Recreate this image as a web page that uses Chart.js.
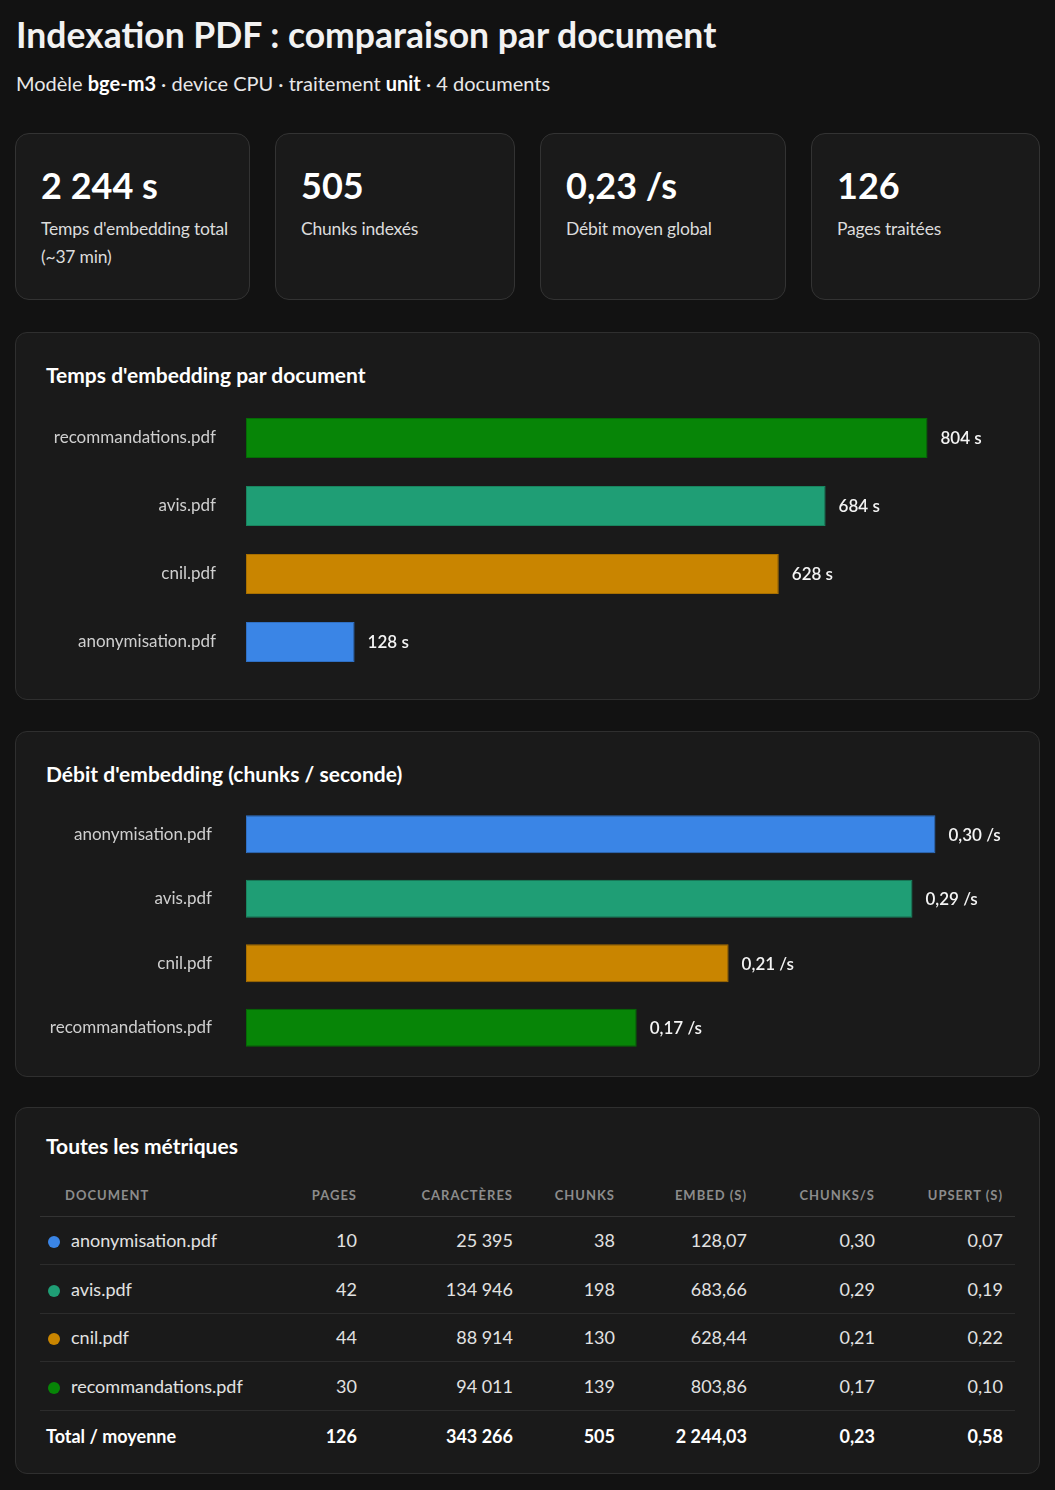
<!DOCTYPE html>
<html lang="fr">
<head>
    <meta charset="UTF-8">
    <title>Indexation PDF : comparaison par document</title>
    <script src="https://cdn.jsdelivr.net/npm/chart.js@4"></script>
    <style>
        * { box-sizing: border-box; }
        body {
            margin: 0;
            padding: 0 15px;
            background: #121212;
            color: #f2f2f2;
            font-family: Lato, "Noto Sans", sans-serif;
            width: 1055px;
        }
        h1 {
            margin: 0;
            padding-top: 14px;
            padding-left: 1px;
            font-size: 35.5px;
            line-height: 42px;
            font-weight: 700;
        }
        .subtitle {
            margin: 0;
            padding-top: 14px;
            padding-left: 1px;
            font-size: 20px;
            line-height: 26px;
            color: #e8e8e8;
        }
        .subtitle b { font-weight: 700; color: #fff; }
        .cards {
            display: grid;
            grid-template-columns: 235px 240px 246px 229px;
            column-gap: 25px;
            margin-top: 37px;
        }
        .card {
            height: 167px;
            background: #1a1a1a;
            border: 1px solid #333;
            border-radius: 14px;
            padding: 29px 25px 0 25px;
        }
        .card .value {
            font-size: 36px;
            line-height: 44px;
            font-weight: 700;
            color: #fff;
        }
        .card .label {
            margin-top: 8px;
            font-size: 17.5px;
            line-height: 28px;
            letter-spacing: -0.2px;
            white-space: nowrap;
            color: #dcdcdc;
        }
        .panel {
            background: #1a1a1a;
            border: 1px solid #2f2f2f;
            border-radius: 12px;
            padding: 29px 30px 23px 30px;
        }
        .panel h2 {
            margin: 0;
            font-size: 21px;
            line-height: 26px;
            font-weight: 700;
            color: #fff;
        }
        #p1 { margin-top: 32px; }
        #p1 .chart-box { margin-top: 16px; height: 272px; position: relative; }
        #p2 { margin-top: 31px; padding-bottom: 16px; }
        #p2 .chart-box { margin-top: 15px; height: 258px; position: relative; }
        #p3 { margin-top: 30px; padding: 25px 24px 12px 24px; }
        #p3 h2 { margin-left: 6px; }
        table {
            margin-top: 15px;
            width: 975px;
            border-collapse: collapse;
            table-layout: fixed;
            font-size: 18px;
        }
        th {
            height: 42px;
            font-size: 13px;
            font-weight: 700;
            letter-spacing: 1px;
            text-transform: uppercase;
            color: #8c8c8c;
            text-align: right;
            padding: 0 12px 0 0;
            border-bottom: 1px solid #333;
        }
        th:first-child { text-align: left; padding-left: 25px; }
        td {
            height: 48.5px;
            text-align: right;
            padding: 0 12px 0 0;
            color: #e2e2e2;
            border-bottom: 1px solid #2c2c2c;
        }
        td:first-child { text-align: left; padding-left: 8px; }
        .dot {
            display: inline-block;
            width: 12px;
            height: 12px;
            border-radius: 50%;
            margin-right: 11px;
            vertical-align: -1px;
        }
        tr.total td {
            height: 51px;
            font-weight: 700;
            color: #fff;
            border-bottom: none;
        }
        tr.total td:first-child { padding-left: 6px; }
    </style>
</head>
<body>
    <h1>Indexation PDF : comparaison par document</h1>
    <p class="subtitle">Modèle <b>bge-m3</b> · device CPU · traitement <b>unit</b> · 4 documents</p>

    <div class="cards">
        <div class="card"><div class="value" id="cTime"></div><div class="label">Temps d'embedding total<br>(~37 min)</div></div>
        <div class="card"><div class="value" id="cChunks"></div><div class="label">Chunks indexés</div></div>
        <div class="card"><div class="value" id="cRate"></div><div class="label">Débit moyen global</div></div>
        <div class="card"><div class="value" id="cPages"></div><div class="label">Pages traitées</div></div>
    </div>

    <section class="panel" id="p1">
        <h2>Temps d'embedding par document</h2>
        <div class="chart-box"><canvas id="timeChart"></canvas></div>
    </section>

    <section class="panel" id="p2">
        <h2>Débit d'embedding (chunks / seconde)</h2>
        <div class="chart-box"><canvas id="rateChart"></canvas></div>
    </section>

    <section class="panel" id="p3">
        <h2>Toutes les métriques</h2>
        <table>
            <colgroup>
                <col style="width:260px"><col style="width:69px"><col style="width:156px">
                <col style="width:102px"><col style="width:132px"><col style="width:128px"><col style="width:128px">
            </colgroup>
            <thead>
                <tr><th>Document</th><th>Pages</th><th>Caractères</th><th>Chunks</th><th>Embed (s)</th><th>Chunks/s</th><th>Upsert (s)</th></tr>
            </thead>
            <tbody id="tbody"></tbody>
        </table>
    </section>

    <script>
        const docs = ['anonymisation.pdf', 'avis.pdf', 'cnil.pdf', 'recommandations.pdf'];
        const docColors = ['#3a85e6', '#1f9e75', '#c98500', '#078507'];
        const docBorders = ['#2f70c4', '#19855f', '#a86f00', '#056b05'];
        const pages = [10, 42, 44, 30];
        const chars = [25395, 134946, 88914, 94011];
        const chunks = [38, 198, 130, 139];
        const embedSec = [128.07, 683.66, 628.44, 803.86];
        const chunksPerSec = [0.30, 0.29, 0.21, 0.17];
        const upsertSec = [0.07, 0.19, 0.22, 0.10];

        const fmtInt = v => v.toLocaleString('fr-FR').replace(/\u202f|\u00a0/g, ' ');
        const fmt2 = v => v.toLocaleString('fr-FR', {minimumFractionDigits: 2, maximumFractionDigits: 2}).replace(/\u202f|\u00a0/g, ' ');
        const sum = a => a.reduce((s, v) => s + v, 0);

        const totPages = sum(pages), totChars = sum(chars), totChunks = sum(chunks);
        const totEmbed = sum(embedSec), totUpsert = sum(upsertSec);
        const avgRate = totChunks / totEmbed;

        document.getElementById('cTime').textContent = fmtInt(Math.round(totEmbed)) + ' s';
        document.getElementById('cChunks').textContent = fmtInt(totChunks);
        document.getElementById('cRate').textContent = fmt2(avgRate) + ' /s';
        document.getElementById('cPages').textContent = fmtInt(totPages);

        // table
        const tbody = document.getElementById('tbody');
        docs.forEach((d, i) => {
            const tr = document.createElement('tr');
            tr.innerHTML = `<td><span class="dot" style="background:${docColors[i]}"></span>${d}</td>` +
                `<td>${pages[i]}</td><td>${fmtInt(chars[i])}</td><td>${chunks[i]}</td>` +
                `<td>${fmt2(embedSec[i])}</td><td>${fmt2(chunksPerSec[i])}</td><td>${fmt2(upsertSec[i])}</td>`;
            tbody.appendChild(tr);
        });
        const trTot = document.createElement('tr');
        trTot.className = 'total';
        trTot.innerHTML = `<td>Total / moyenne</td><td>${totPages}</td><td>${fmtInt(totChars)}</td><td>${totChunks}</td>` +
            `<td>${fmt2(totEmbed)}</td><td>${fmt2(avgRate)}</td><td>${fmt2(totUpsert)}</td>`;
        tbody.appendChild(trTot);

        // value labels drawn at the end of each bar
        const barLabels = {
            id: 'barLabels',
            afterDatasetsDraw(chart, args, opts) {
                const ctx = chart.ctx;
                const meta = chart.getDatasetMeta(0);
                ctx.save();
                ctx.font = '600 17px Lato, "Noto Sans", sans-serif';
                ctx.fillStyle = '#f4f4f4';
                ctx.textBaseline = 'middle';
                ctx.textAlign = 'left';
                meta.data.forEach((bar, i) => {
                    ctx.fillText(opts.format(chart.data.datasets[0].data[i]), bar.x + 13, bar.y + 1);
                });
                ctx.restore();
            }
        };

        function sortedIdx(values) {
            return values.map((v, i) => i).sort((a, b) => values[b] - values[a]);
        }

        function makeBarChart(id, values, max, labelPad, format) {
            const order = sortedIdx(values);
            return new Chart(document.getElementById(id), {
                type: 'bar',
                data: {
                    labels: order.map(i => docs[i]),
                    datasets: [{
                        data: order.map(i => values[i]),
                        backgroundColor: order.map(i => docColors[i]),
                        borderColor: order.map(i => docBorders[i]),
                        borderWidth: 1,
                        borderSkipped: false,
                        categoryPercentage: 1,
                        barPercentage: 0.59
                    }]
                },
                options: {
                    indexAxis: 'y',
                    responsive: true,
                    maintainAspectRatio: false,
                    animation: false,
                    layout: { padding: 0 },
                    plugins: {
                        legend: { display: false },
                        tooltip: { enabled: false },
                        barLabels: { format }
                    },
                    scales: {
                        x: { display: false, min: 0, max },
                        y: {
                            grid: { display: false },
                            border: { display: false },
                            ticks: {
                                color: '#cfcfcf',
                                padding: labelPad,
                                font: { family: 'Lato, "Noto Sans", sans-serif', size: 17 }
                            },
                            afterFit: s => {
                                s.width = 200;
                                s.paddingTop = 0;
                                s.paddingBottom = 0;
                            }
                        }
                    }
                },
                plugins: [barLabels]
            });
        }

        makeBarChart('timeChart', embedSec, 900, 22, v => fmtInt(Math.round(v)) + ' s');
        makeBarChart('rateChart', chunksPerSec, 0.332, 26, v => fmt2(v) + ' /s');
    </script>
</body>
</html>
